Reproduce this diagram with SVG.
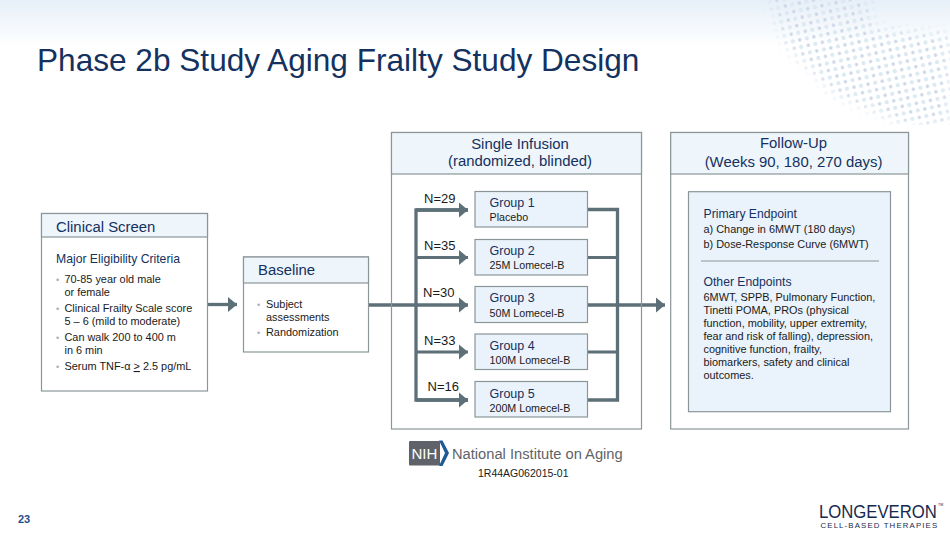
<svg xmlns="http://www.w3.org/2000/svg" width="950" height="534" viewBox="0 0 950 534">
<style>
text{font-family:"Liberation Sans",Arial,sans-serif;fill:#1a1a1a}
.box{fill:#fff;stroke:#8a9698;stroke-width:1.2}
.hdr{fill:#eef5fb;stroke:#8a9698;stroke-width:1.2}
.grp{fill:#eaf2fb;stroke:#8a9698;stroke-width:1.2}
.h{fill:#14315f;font-size:14.9px}
.sub{fill:#14315f;font-size:12.2px}
.t{font-size:10.9px}
.gs{font-size:10.7px}
.g{fill:#14315f;font-size:12.5px}
.n{font-size:13px}
.b{fill:#a8b0b4;font-size:9px}
.wire{fill:none;stroke:#5d7078;stroke-width:3.3}
.thin{fill:none;stroke:#5d7078;stroke-width:2.8}
</style>
<defs>
<linearGradient id="top" x1="0" y1="0" x2="0" y2="1"><stop offset="0" stop-color="#e6eff8"/><stop offset="1" stop-color="#ffffff"/></linearGradient>
<marker id="ah" markerUnits="userSpaceOnUse" markerWidth="10" markerHeight="16" refX="9" refY="8" orient="auto"><path d="M0 0.500L9 8L0 15.500Z" fill="#5d7078"/></marker>
<pattern id="dots" width="7.2" height="7.2" patternUnits="userSpaceOnUse" patternTransform="rotate(-12)"><circle cx="3.6" cy="3.6" r="1.7" fill="#cdd6e8"/></pattern>
<pattern id="dots2" width="14.4" height="14.4" patternUnits="userSpaceOnUse" patternTransform="rotate(-12)"><circle cx="3.6" cy="3.6" r="1.8" fill="#dcecf4"/><circle cx="10.800" cy="10.800" r="1.8" fill="#dcecf4"/></pattern>
<filter id="soft" x="-20%" y="-20%" width="140%" height="140%"><feGaussianBlur stdDeviation="6"/></filter>
<mask id="band" maskUnits="userSpaceOnUse" x="760" y="0" width="190" height="125"><path d="M768 -10L868 -10L872 28L950 34L950 125L905 125L835 95L785 45Z" fill="#fff" filter="url(#soft)"/></mask>
</defs>
<rect width="950" height="534" fill="#fff"/>
<rect width="950" height="46" fill="url(#top)"/>
<g mask="url(#band)"><rect x="760" width="190" height="125" fill="url(#dots)"/><rect x="760" width="190" height="125" fill="url(#dots2)"/></g>
<text x="37" y="71" font-size="31.600" style="fill:#14315f">Phase 2b Study Aging Frailty Study Design</text>

<g id="connectors">
<path class="wire" d="M207.500 304.500H237" marker-end="url(#ah)"/>
<path class="wire" d="M368 305H468" marker-end="url(#ah)"/>
<path class="wire" d="M468 210H416V400H468"/>
<path class="wire" d="M416 210H468" marker-end="url(#ah)"/>
<path class="thin" d="M416 257.500H468" marker-end="url(#ah)"/>
<path class="thin" d="M416 352H468" marker-end="url(#ah)"/>
<path class="wire" d="M416 400H468" marker-end="url(#ah)"/>
<path class="wire" d="M588 209.500H617.500V400H588"/>
<path class="thin" d="M588 257.500H617.500M588 352H617.500"/>
<path class="wire" d="M588 305H665" marker-end="url(#ah)"/>
</g>

<g id="clinical-screen">
<rect class="box" x="41.500" y="213.500" width="166" height="177.500"/>
<rect class="hdr" x="41.500" y="213.500" width="166" height="23.500"/>
<text class="h" x="56" y="232">Clinical Screen</text>
<text class="sub" x="56" y="263">Major Eligibility Criteria</text>
<text class="b" x="56" y="282.500">•</text><text class="t" x="64.500" y="283">70-85 year old male</text>
<text class="t" x="64.500" y="296">or female</text>
<text class="b" x="56" y="311.500">•</text><text class="t" x="64.500" y="312">Clinical Frailty Scale score</text>
<text class="t" x="64.500" y="325">5 – 6 (mild to moderate)</text>
<text class="b" x="56" y="340.500">•</text><text class="t" x="64.500" y="341">Can walk 200 to 400 m</text>
<text class="t" x="64.500" y="354">in 6 min</text>
<text class="b" x="56" y="369.500">•</text><text class="t" x="64.500" y="370">Serum TNF-α <tspan text-decoration="underline">&gt;</tspan> 2.5 pg/mL</text>
</g>

<g id="baseline">
<rect class="box" x="243.500" y="257" width="125" height="95"/>
<rect class="hdr" x="243.500" y="257" width="125" height="26"/>
<text class="h" x="258" y="275">Baseline</text>
<text class="b" x="257" y="307.500">•</text><text class="t" x="266" y="308">Subject</text>
<text class="t" x="266" y="321">assessments</text>
<text class="b" x="257" y="335.500">•</text><text class="t" x="266" y="336">Randomization</text>
</g>

<g id="single-infusion">
<rect class="box" x="391.500" y="132.500" width="250" height="296.500" style="fill:none"/>
<rect class="hdr" x="391.500" y="132.500" width="250" height="41.500"/>
<text class="h" x="520" y="149" text-anchor="middle">Single Infusion</text>
<text class="h" x="520" y="165.500" text-anchor="middle">(randomized, blinded)</text>
</g>

<g id="n-labels">
<text class="n" x="424" y="203">N=29</text>
<text class="n" x="424" y="250">N=35</text>
<text class="n" x="423" y="297">N=30</text>
<text class="n" x="424" y="345">N=33</text>
<text class="n" x="427.500" y="391">N=16</text>
</g>

<g id="group-1"><rect class="grp" x="475" y="191.500" width="112.500" height="35.500"/><text class="g" x="489.500" y="207">Group 1</text><text class="gs" x="489.500" y="221">Placebo</text></g>
<g id="group-2"><rect class="grp" x="475" y="239.500" width="112.500" height="35.500"/><text class="g" x="489.500" y="255">Group 2</text><text class="gs" x="489.500" y="269">25M Lomecel-B</text></g>
<g id="group-3"><rect class="grp" x="475" y="286.500" width="112.500" height="36"/><text class="g" x="489.500" y="302">Group 3</text><text class="gs" x="489.500" y="316.500">50M Lomecel-B</text></g>
<g id="group-4"><rect class="grp" x="475" y="334" width="112.500" height="35.500"/><text class="g" x="489.500" y="350">Group 4</text><text class="gs" x="489.500" y="364">100M Lomecel-B</text></g>
<g id="group-5"><rect class="grp" x="475" y="381.500" width="112.500" height="35.500"/><text class="g" x="489.500" y="397.500">Group 5</text><text class="gs" x="489.500" y="411.500">200M Lomecel-B</text></g>

<g id="follow-up">
<rect class="box" x="670.700" y="132.500" width="237.800" height="296.500"/>
<rect class="hdr" x="670.700" y="132.500" width="237.800" height="41.500"/>
<text class="h" x="793.500" y="148" text-anchor="middle">Follow-Up</text>
<text class="h" x="793.500" y="167" text-anchor="middle">(Weeks 90, 180, 270 days)</text>
<rect class="grp" x="688.500" y="191.700" width="202" height="220"/>
<text class="sub" x="703.500" y="218">Primary Endpoint</text>
<text class="t" x="703.500" y="233">a) Change in 6MWT (180 days)</text>
<text class="t" x="703.500" y="248">b) Dose-Response Curve (6MWT)</text>
<path d="M701 261H879" fill="none" stroke="#8a9698" stroke-width="1.2"/>
<text class="sub" x="703.500" y="286">Other Endpoints</text>
<text class="t" x="703.500" y="301">6MWT, SPPB, Pulmonary Function,</text>
<text class="t" x="703.500" y="314">Tinetti POMA, PROs (physical</text>
<text class="t" x="703.500" y="327">function, mobility, upper extremity,</text>
<text class="t" x="703.500" y="340">fear and risk of falling), depression,</text>
<text class="t" x="703.500" y="353">cognitive function, frailty,</text>
<text class="t" x="703.500" y="366">biomarkers, safety and clinical</text>
<text class="t" x="703.500" y="379">outcomes.</text>
</g>

<g id="nih">
<rect x="409" y="441" width="31" height="24.500" rx="1" fill="#5f6369"/>
<path d="M439 440.500H442.500L449 453L442.500 466H439L445 453Z" fill="#1f5a96"/>
<text x="411.500" y="458.500" font-size="15" style="fill:#fff">NIH</text>
<text x="452" y="459" font-size="14.700" style="fill:#5f6369">National Institute on Aging</text>
<text x="478" y="477" font-size="10.500">1R44AG062015-01</text>
</g>

<text x="18" y="523" font-size="11" font-weight="700" style="fill:#1f4e8c">23</text>
<g id="logo">
<text transform="translate(819 518) scale(.88 1)" font-size="19" style="fill:#15294e">LONGEVERON</text>
<text x="938" y="506" font-size="3.500" style="fill:#15294e">TM</text>
<text x="820.500" y="528.300" font-size="7.800" letter-spacing="1.150" style="fill:#15294e">CELL-BASED THERAPIES</text>
</g>
</svg>
